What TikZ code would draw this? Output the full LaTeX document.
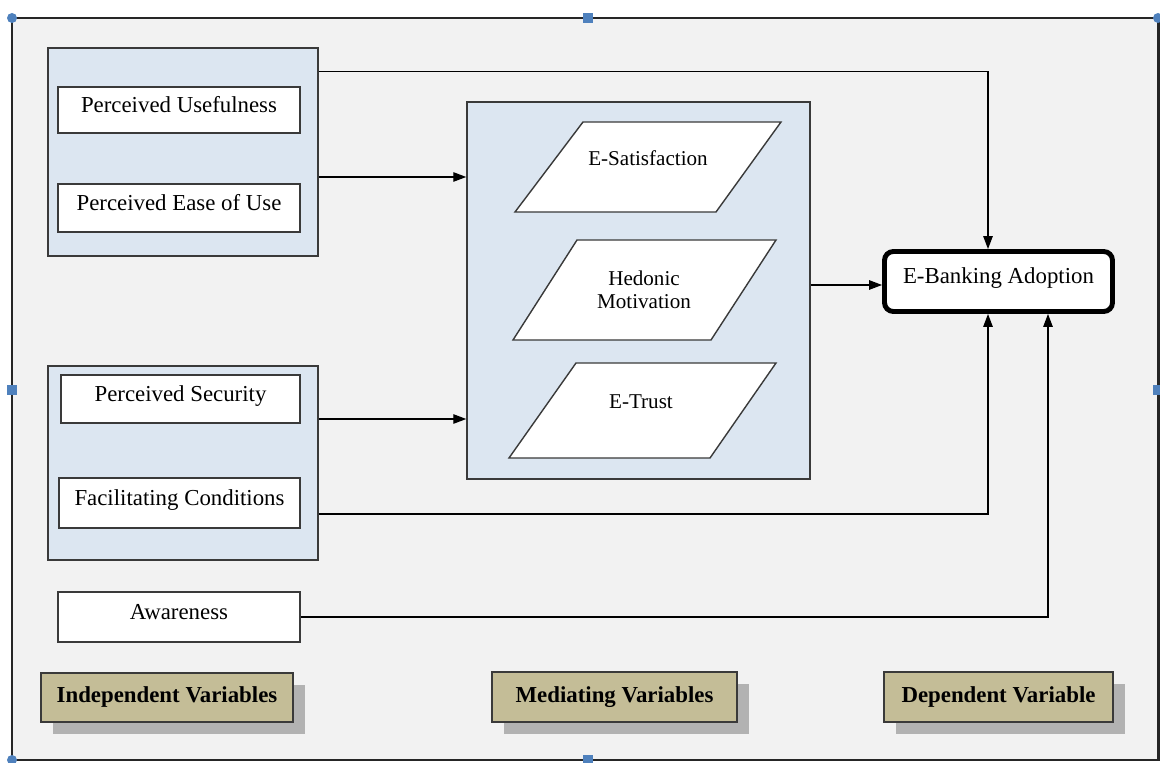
\documentclass[tikz,border=0pt]{standalone}
\usepackage{fontspec}
\setmainfont{Liberation Serif}
\usepackage{xcolor}
\usepackage{tikz}
\usetikzlibrary{arrows.meta,shadows}

\definecolor{panelgray}{HTML}{F2F2F2}
\definecolor{groupblue}{HTML}{DCE6F1}
\definecolor{legendtan}{HTML}{C4BD97}
\definecolor{edgegray}{HTML}{3A3A3A}
\definecolor{handleblue}{HTML}{4F81BD}

\begin{document}
\begin{tikzpicture}[x=0.02cm, y=-0.02cm, >={Triangle[length=2.6mm,width=1.9mm]},
    varbox/.style={draw=edgegray, line width=0.9pt, fill=white, inner sep=0pt,
        minimum width=4.84cm, text height=0.7em, text depth=0.45em,
        font=\fontsize{13}{15}\selectfont},
    groupbox/.style={draw=edgegray, line width=0.9pt, fill=groupblue, inner sep=0pt,
        minimum width=5.4cm},
    medshape/.style={draw=edgegray, line width=0.8pt, fill=white},
    medtext/.style={align=center, font=\fontsize{12}{13}\selectfont},
    legendbox/.style={draw=edgegray, line width=0.9pt, fill=legendtan, inner sep=0pt,
        minimum height=1cm, font=\bfseries\fontsize{13}{15}\selectfont,
        drop shadow={shadow xshift=0.24cm, shadow yshift=-0.24cm, fill=black!30, opacity=1}},
    link/.style={->, line width=0.7pt}]
    \useasboundingbox (0,0) rectangle (1160,763);

    % Frame
    \draw[black!85, line width=1.7pt, fill=panelgray] (12,18) rectangle (1158,760);
    \fill[handleblue] (583,13) rectangle (593,23);
    \fill[handleblue] (7,385) rectangle (17,395);
    \fill[handleblue] (1153,385) rectangle (1163,395);
    \fill[handleblue] (583,755) rectangle (593,765);
    \fill[handleblue] (12,18) circle[radius=0.1cm];
    \fill[handleblue] (1158,18) circle[radius=0.1cm];
    \fill[handleblue] (12,760) circle[radius=0.1cm];

    % Independent variables
    \node[groupbox, minimum height=4.16cm] (grp1) at (183,152) {};
    \node[varbox, minimum height=0.92cm] (pu) at (179,110) {Perceived Usefulness};
    \node[varbox, minimum height=0.96cm] (peou) at (179,208) {Perceived Ease of Use};
    \node[groupbox, minimum height=3.88cm] (grp2) at (183,463) {};
    \node[varbox, minimum width=4.78cm, minimum height=0.96cm] (ps) at (180.5,399) {Perceived Security};
    \node[varbox, minimum width=4.82cm, minimum height=1cm] (fc) at (179.5,503) {Facilitating Conditions};
    \node[varbox, minimum height=1cm] (aw) at (179,617) {Awareness};

    % Mediating variables
    \node[groupbox, minimum width=6.86cm, minimum height=7.54cm] (med) at (638.5,290.5) {};
    \draw[medshape] (583,122) -- (781,122) -- (716,212) -- (515,212) -- cycle;
    \draw[medshape] (577,240) -- (776,240) -- (711,340) -- (513,340) -- cycle;
    \draw[medshape] (576,363) -- (776,363) -- (710,458) -- (509,458) -- cycle;
    \node[medtext] (esat) at (648,158) {E-Satisfaction};
    \node[medtext] (hedo) at (644,290) {Hedonic\\Motivation};
    \node[medtext] (etru) at (641,402) {E-Trust};

    % Dependent variable
    \node[draw=black, line width=2.8pt, fill=white, rounded corners=5pt,
        minimum width=4.56cm, minimum height=1.2cm, inner sep=0pt,
        text height=0.7em, text depth=0.45em,
        font=\fontsize{13}{15}\selectfont] (eba) at (998.5,281.5) {E-Banking Adoption};

    % Paths
    \draw[link] ([yshift=-0.48cm]grp1.north east) -| ([xshift=-0.21cm]eba.north);
    \draw[link] ([yshift=-0.5cm]grp1.east) coordinate (g1m) -- (g1m -| med.west);
    \draw[link] ([yshift=0.88cm]grp2.east) coordinate (g2m) -- (g2m -| med.west);
    \draw[link] ([yshift=-0.07cm]med.east |- eba.west) coordinate (mdo) -- (mdo -| eba.west);
    \draw[link] ([yshift=-1.02cm]grp2.east) -| ([xshift=-0.21cm]eba.south);
    \draw[link] (aw.east) -| ([xshift=0.99cm]eba.south);

    % Legend
    \node[legendbox, minimum width=5.04cm, minimum height=0.98cm] (lind) at (167,697.5) {Independent Variables};
    \node[legendbox, minimum width=4.9cm] (lmed) at (614.5,697) {Mediating Variables};
    \node[legendbox, minimum width=4.58cm] (ldep) at (998.5,697) {Dependent Variable};
\end{tikzpicture}
\end{document}
